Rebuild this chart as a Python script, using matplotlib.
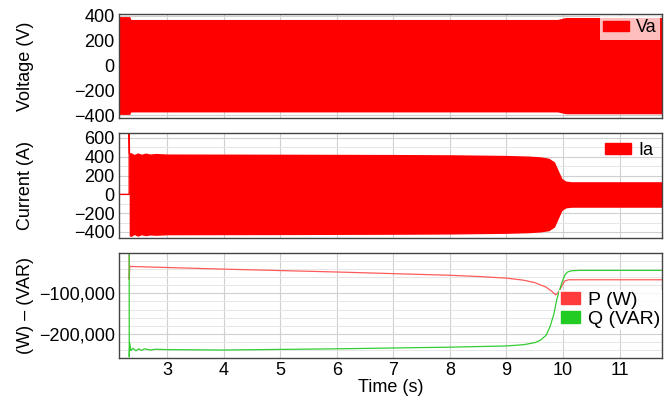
import matplotlib
matplotlib.use('Agg')
import matplotlib.pyplot as plt
from matplotlib.ticker import MultipleLocator, FuncFormatter
from matplotlib.patches import Patch

plt.rcParams['font.family'] = ['Liberation Sans', 'DejaVu Sans']
plt.rcParams['font.size'] = 13

# Voltage envelope (V)
t_va = [2.15, 2.34, 2.36, 9.9, 10.05, 11.75]
va_hi = [395, 395, 372, 372, 388, 388]
va_lo = [-395, -395, -375, -375, -390, -390]

# Current envelope (A)
t_ia = [2.33, 2.36, 2.42, 2.48, 2.55, 2.62, 2.7, 2.8, 3.0, 5.0, 7.0, 8.0, 9.0,
        9.4, 9.6, 9.75, 9.85, 9.92, 9.98, 10.05, 10.15, 11.75]
ia_hi = [440, 445, 425, 442, 428, 440, 430, 436, 430, 428, 425, 422, 415,
         408, 400, 385, 345, 250, 170, 142, 135, 135]
ia_lo = [-440, -448, -428, -445, -430, -440, -432, -436, -430, -428, -425, -422, -415,
         -408, -400, -387, -347, -252, -172, -144, -137, -137]
t_ia_pre = [2.15, 2.33, 2.33, 2.335]
ia_pre = [0, 0, 660, 440]

# Active / reactive power
t_p = [2.15, 2.33, 2.331, 2.34, 2.36, 3.0, 4.0, 5.0, 6.0, 7.0, 8.0, 8.5, 9.0,
       9.3, 9.5, 9.7, 9.8, 9.87, 9.93, 9.98, 10.03, 10.1, 10.3, 11.75]
p_w = [0, 0, -66000, -34000, -34500, -37000, -41000, -44500, -48000, -52000, -56000, -59000,
       -63000, -68000, -74000, -85000, -95000, -104000, -96000, -82000, -70000, -67000,
       -67000, -67000]
t_q = [2.15, 2.33, 2.331, 2.34, 2.36, 2.4, 2.45, 2.5, 2.55, 2.6, 2.7, 2.8, 3.0, 4.0, 6.0,
       8.0, 9.0, 9.3, 9.5, 9.6, 9.7, 9.77, 9.84, 9.89, 9.94, 9.98, 10.03, 10.08, 10.15,
       10.3, 11.75]
q_var = [0, 0, -256000, -222000, -240000, -235000, -241000, -236000, -240000, -236000,
         -239000, -237000, -238000, -239000, -236000, -232000, -229000, -226000,
         -221000, -215000, -203000, -182000, -150000, -115000, -92000, -74000, -56000,
         -48000, -45000, -44000, -44000]

xticks = [3, 4, 5, 6, 7, 8, 9, 10, 11]

fig = plt.figure(figsize=(6.69, 4.0), dpi=100)
L, W = 119 / 669, 543 / 669
ax1 = fig.add_axes([L, 1 - 118 / 400, W, 104 / 400])
ax2 = fig.add_axes([L, 1 - 238 / 400, W, 105 / 400], sharex=ax1)
ax3 = fig.add_axes([L, 1 - 358 / 400, W, 105 / 400], sharex=ax1)

red = '#ff0000'

ax1.fill_between(t_va, va_lo, va_hi, color=red, lw=0)
ax1.set_ylim(-424, 416)
ax1.yaxis.set_major_locator(MultipleLocator(200))
ax1.set_ylabel('Voltage (V)')
ax1.legend(handles=[Patch(color=red, label='Va')], loc='upper right',
           handlelength=1.4, handleheight=0.5, handletextpad=0.4, borderaxespad=0.1,
           borderpad=0.2, framealpha=0.75, edgecolor='none', fancybox=False)

ax2.plot(t_ia_pre, ia_pre, color=red, lw=1)
ax2.fill_between(t_ia, ia_lo, ia_hi, color=red, lw=0)
ax2.set_ylim(-464, 653)
ax2.yaxis.set_major_locator(MultipleLocator(200))
ax2.yaxis.set_minor_locator(MultipleLocator(100))
ax2.set_ylabel('Current (A)')
ax2.legend(handles=[Patch(color=red, label='Ia')], loc='upper right',
           handlelength=1.4, handleheight=0.5, handletextpad=0.4, borderaxespad=0.3,
           borderpad=0.2, frameon=False)

ax3.plot(t_p, p_w, color='#ff5a5a', lw=0.9)
ax3.plot(t_q, q_var, color='#33cc33', lw=0.9)
ax3.set_ylim(-258500, -1500)
ax3.yaxis.set_major_locator(MultipleLocator(100000))
ax3.yaxis.set_minor_locator(MultipleLocator(20000))
ax3.yaxis.set_major_formatter(FuncFormatter(lambda v, p: f'{v:,.0f}'.replace('-', '\u2212')))
ax3.set_ylabel('(W) \u2013 (VAR)')
ax3.legend(handles=[Patch(color='#ff3b3b', label='P (W)'), Patch(color='#22cc22', label='Q (VAR)')],
           loc='center right', bbox_to_anchor=(1.0, 0.46), fontsize=14,
           handlelength=1.0, handleheight=0.6, handletextpad=0.4, labelspacing=0.1,
           borderaxespad=0.0, borderpad=0.1, framealpha=0.85, edgecolor='none', fancybox=False)
ax3.set_xlabel('Time (s)', labelpad=0)

ax3.set_xlim(2.15, 11.75)
ax3.set_xticks(xticks)

for ax in (ax1, ax2, ax3):
    ax.grid(True, which='major', color='#d0d0d0', lw=0.8)
    ax.grid(True, which='minor', axis='y', color='#e6e6e6', lw=0.7)
    ax.set_axisbelow(True)
    ax.tick_params(which='both', length=0, pad=3)
    for s in ax.spines.values():
        s.set_color('#444444')
        s.set_linewidth(1.0)
    ax.yaxis.set_label_coords(-0.157, 0.5)
for ax in (ax1, ax2):
    ax.tick_params(labelbottom=False)

fig.savefig('out.png', dpi=100)
